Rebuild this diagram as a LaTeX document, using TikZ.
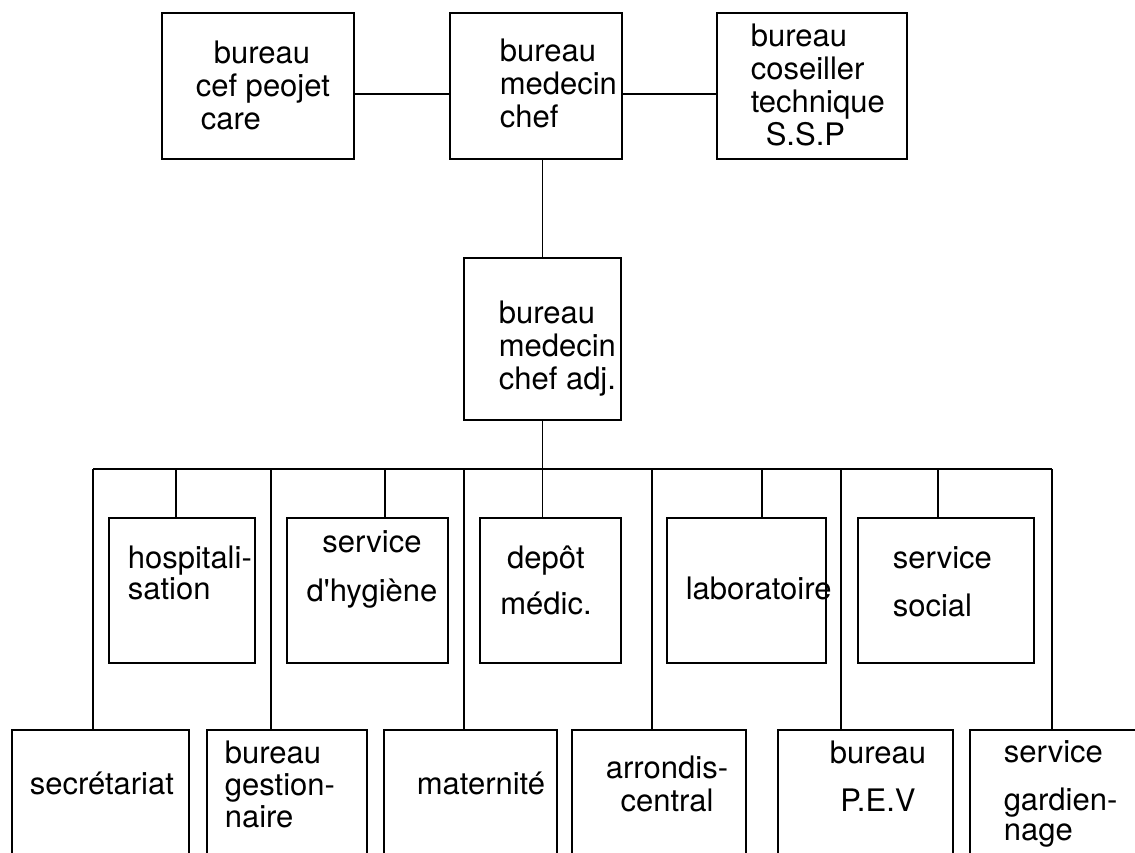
\documentclass[tikz,border=0pt]{standalone}
\usepackage{fontspec}
\setmainfont{TeX Gyre Heros}
\usepackage{tikz}

\tikzset{
	boite/.style={draw, rectangle, inner sep=0pt, outer sep=0pt},
	etiq/.style={font=\fontsize{31}{33}\selectfont, inner sep=0pt, align=left},
}

\begin{document}
\begin{tikzpicture}[x=1pt, y=-1pt, line width=1.6pt]
		\useasboundingbox (0,0) rectangle (1135,853);
		\clip (0,0) rectangle (1135,853);

		% direction
		\node[boite, minimum width=192pt, minimum height=146pt] (bcp) at (258,86) {};
		\node[boite, minimum width=172pt, minimum height=146pt] (bmc) at (536,86) {};
		\node[boite, minimum width=190pt, minimum height=146pt] (bct) at (812,86) {};
		\node[boite, minimum width=157pt, minimum height=162pt] (bma) at (542.5,339) {};

		\node[etiq, anchor=north west] (bcp-t) at (195,40) {\hspace*{18pt}bureau\\cef peojet\\\hspace*{5pt}care};
		\node[etiq, anchor=north west] (bmc-t) at (499,38) {bureau\\medecin\\chef};
		\node[etiq, anchor=north west] (bct-t) at (750,23) {bureau\\coseiller\\technique\\\hspace*{15pt}S.S.P};
		\node[etiq, anchor=north west] (bma-t) at (498,300) {bureau\\medecin\\chef adj.};

		\draw ([yshift=-8pt]bcp.east) -- ([yshift=-8pt]bmc.west);
		\draw ([yshift=-8pt]bmc.east) -- ([yshift=-8pt]bct.west);
		\draw (bma.north |- bmc.south) -- (bma.north);

		% services
		\node[boite, minimum width=146pt, minimum height=145pt] (hosp) at (182,590.5) {};
		\node[boite, minimum width=161pt, minimum height=145pt] (hyg) at (367.5,590.5) {};
		\node[boite, minimum width=141pt, minimum height=145pt] (dep) at (550.5,590.5) {};
		\node[boite, minimum width=159pt, minimum height=145pt] (labo) at (746.5,590.5) {};
		\node[boite, minimum width=176pt, minimum height=145pt] (soc) at (946,590.5) {};

		\node[etiq, anchor=north west] (hosp-t) at (127,545) {hospitali-\\[-2pt]sation};
		\node[etiq, align=center, anchor=north] (hyg-t) at (372,530) {service\\[16pt]d\textquotesingle hygiène};
		\node[etiq, align=center, anchor=north] (dep-t) at (546,545) {depôt\\[13pt]médic.};
		\node[etiq, anchor=north west] (labo-t) at (685,576) {laboratoire};
		\node[etiq, anchor=north west] (soc-t) at (892,546) {service\\[15pt]social};

		% bureaux du bas
		\node[boite, minimum width=177pt, minimum height=160pt] (sec) at (100.5,810) {};
		\node[boite, minimum width=160pt, minimum height=160pt] (ges) at (287,810) {};
		\node[boite, minimum width=173pt, minimum height=160pt] (mat) at (470.5,810) {};
		\node[boite, minimum width=174pt, minimum height=160pt] (arr) at (659,810) {};
		\node[boite, minimum width=175pt, minimum height=160pt] (pev) at (865.5,810) {};
		\node[boite, minimum width=190pt, minimum height=160pt] (gar) at (1065,810) {};

		\node[etiq, anchor=north west] (sec-t) at (29,771) {secrétariat};
		\node[etiq, anchor=north west] (ges-t) at (224,740) {bureau\\[-1pt]gestion-\\[-1pt]naire};
		\node[etiq, anchor=north west] (mat-t) at (416,771) {maternité};
		\node[etiq, align=center, anchor=north] (arr-t) at (667,755) {arrondis-\\central};
		\node[etiq, align=center, anchor=north] (pev-t) at (878,740) {bureau\\[15pt]P.E.V};
		\node[etiq, anchor=north west] (gar-t) at (1003,740) {service\\[15pt]gardien-\\[-3pt]nage};

		% bus
		\coordinate (b1) at (93,469);
		\coordinate (b2) at (176,469);
		\coordinate (b3) at (271,469);
		\coordinate (b4) at (385,469);
		\coordinate (b5) at (464,469);
		\coordinate (b6) at (652,469);
		\coordinate (b7) at (762,469);
		\coordinate (b8) at (841,469);
		\coordinate (b9) at (938,469);
		\coordinate (b10) at (1052,469);

		\draw (b1) -- (b10);
		\draw (bma.south) -- (dep.north -| bma.south);
		\draw (b1) -- (sec.north -| b1);
		\draw (b2) -- (hosp.north -| b2);
		\draw (b3) -- (ges.north -| b3);
		\draw (b4) -- (hyg.north -| b4);
		\draw (b5) -- (mat.north -| b5);
		\draw (b6) -- (arr.north -| b6);
		\draw (b7) -- (labo.north -| b7);
		\draw (b8) -- (pev.north -| b8);
		\draw (b9) -- (soc.north -| b9);
		\draw (b10) -- (gar.north -| b10);
	\end{tikzpicture}
\end{document}
